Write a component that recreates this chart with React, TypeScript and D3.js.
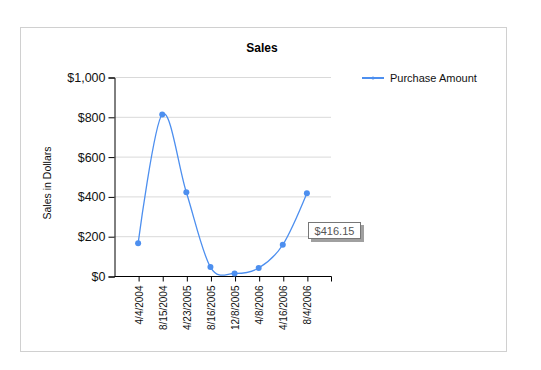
import React, { useEffect, useRef } from "react";
import * as d3 from "d3";

const dates = ["4/4/2004", "8/15/2004", "4/23/2005", "8/16/2005", "12/8/2005", "4/8/2006", "4/16/2006", "8/4/2006"];
const amounts = [164, 812, 421, 45, 13, 40, 157, 416.15];
const yTicks = [0, 200, 400, 600, 800, 1000];

const lineColor = "#4d8fef";

export default function App() {
  const ref = useRef<SVGSVGElement>(null);

  useEffect(() => {
    const svg = d3.select(ref.current);
    svg.selectAll("*").remove();

    const left = 114, right = 331, top = 77, bottom = 276;

    // outer frame
    svg.append("rect")
      .attr("x", 20.5).attr("y", 27.5)
      .attr("width", 486).attr("height", 324)
      .attr("fill", "white").attr("stroke", "#d0d0d0");

    svg.append("text")
      .attr("x", 262).attr("y", 52)
      .attr("text-anchor", "middle")
      .attr("font-family", "Arial, Liberation Sans, sans-serif")
      .attr("font-size", 12).attr("font-weight", "bold")
      .text("Sales");

    var x = d3.scalePoint().domain(dates).range([left, right]).padding(1);
    var y = d3.scaleLinear().domain([0, 1000]).range([bottom, top]);

    // grid
    svg.append("g")
      .selectAll("line")
      .data(yTicks.slice(1))
      .join("line")
      .attr("x1", left).attr("x2", right)
      .attr("y1", d => y(d) + 0.5).attr("y2", d => y(d) + 0.5)
      .attr("stroke", "#d9d9d9");

    const yAxis = svg.append("g")
      .attr("transform", `translate(${left + 0.5},0.5)`)
      .call(d3.axisLeft(y).tickValues(yTicks).tickSize(6).tickPadding(3)
        .tickFormat(d => "$" + d3.format(",")(d as number)));
    yAxis.select(".domain").attr("stroke", "#000");
    yAxis.selectAll("text")
      .attr("font-family", "Arial, Liberation Sans, sans-serif")
      .attr("font-size", 12.5).attr("fill", "#111");

    const xAxis = svg.append("g")
      .attr("transform", `translate(0.5,${bottom + 0.5})`)
      .call(d3.axisBottom(x).tickSize(5).tickSizeOuter(0));
    xAxis.select(".domain").attr("d", `M${left},0H${right}`);
    xAxis.append("line").attr("x1", right).attr("x2", right).attr("y1", 0).attr("y2", 5).attr("stroke", "#000");
    xAxis.selectAll(".tick text")
      .attr("font-family", "Arial, Liberation Sans, sans-serif")
      .attr("font-size", 10).attr("fill", "#111")
      .attr("text-anchor", "end")
      .attr("transform", "rotate(-90)")
      .attr("x", -9).attr("y", 0).attr("dy", "0.35em");

    svg.append("text")
      .attr("transform", "translate(51,183) rotate(-90)")
      .attr("text-anchor", "middle")
      .attr("font-family", "Arial, Liberation Sans, sans-serif")
      .attr("font-size", 10.5).attr("fill", "#111")
      .text("Sales in Dollars");

    const line = d3.line<number>()
      .x((d, i) => x(dates[i])!)
      .y(d => y(d))
      .curve(d3.curveCardinal.tension(0));

    svg.append("path")
      .datum(amounts)
      .attr("d", line)
      .attr("fill", "none")
      .attr("stroke", lineColor).attr("stroke-width", 1.3);

    svg.append("g")
      .selectAll("circle")
      .data(amounts)
      .join("circle")
      .attr("cx", (d, i) => x(dates[i])!)
      .attr("cy", d => y(d))
      .attr("r", 3)
      .attr("fill", lineColor);

    // legend
    svg.append("line")
      .attr("x1", 362).attr("x2", 384).attr("y1", 78).attr("y2", 78)
      .attr("stroke", lineColor).attr("stroke-width", 2);
    svg.append("circle").attr("cx", 373).attr("cy", 78).attr("r", 1.5).attr("fill", lineColor);
    svg.append("text")
      .attr("x", 390).attr("y", 82)
      .attr("font-family", "Arial, Liberation Sans, sans-serif")
      .attr("font-size", 11).attr("fill", "#111")
      .text("Purchase Amount");

    // tooltip
    const tx = 308, ty = 222;
    svg.append("rect").attr("x", tx + 3).attr("y", ty + 3).attr("width", 53).attr("height", 17).attr("fill", "#a0a0a0");
    svg.append("rect").attr("x", tx + 0.5).attr("y", ty + 0.5).attr("width", 52).attr("height", 16)
      .attr("fill", "white").attr("stroke", "#777");
    svg.append("text")
      .attr("x", tx + 26.5).attr("y", ty + 12.5)
      .attr("text-anchor", "middle")
      .attr("font-family", "Arial, Liberation Sans, sans-serif")
      .attr("font-size", 11).attr("fill", "#555")
      .text("$" + amounts[7].toFixed(2));
  }, []);

  return <svg ref={ref} width={541} height={370} style={{ position: "absolute", left: 0, top: 0 }} />;
}
